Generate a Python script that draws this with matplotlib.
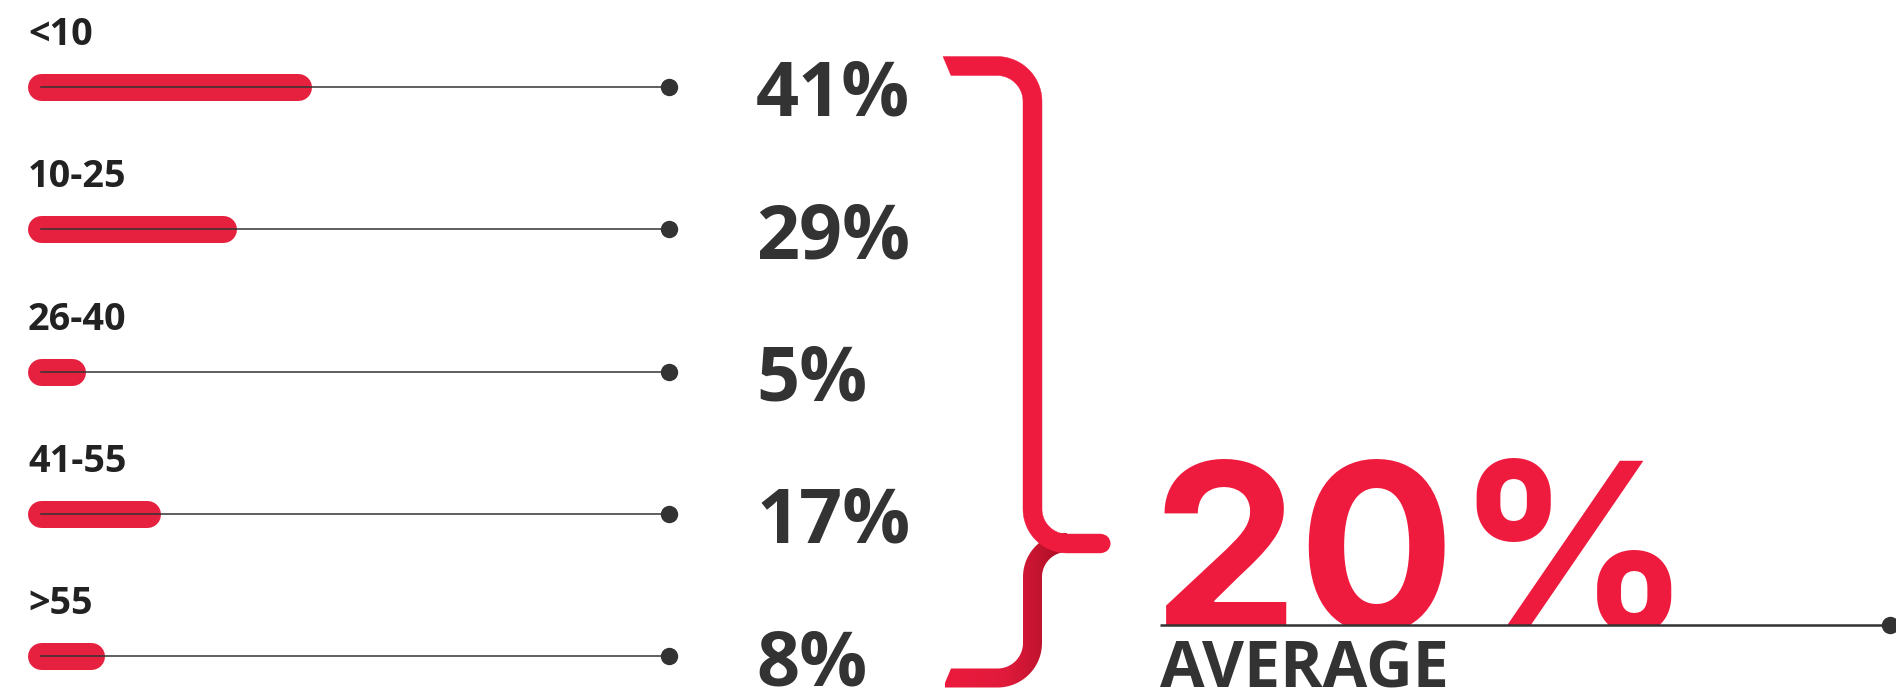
import matplotlib
matplotlib.use("Agg")
import matplotlib.pyplot as plt
import numpy as np
from matplotlib import font_manager as fm
from matplotlib.patches import Polygon, Circle, Rectangle
from matplotlib.colors import LinearSegmentedColormap

# donnees
age_groups = ['<10', '10-25', '26-40', '41-55', '>55']
shares = [41, 29, 5, 17, 8]
average_share = 20

RED = '#ef1b3e'
BAR_RED = '#e6203f'
DARK = '#333333'
LABEL = '#222222'


def find_font(filename):
    for f in fm.fontManager.ttflist:
        if f.fname.endswith(filename):
            return f.fname
    return None


open_bold = find_font('OpenSans-Bold.ttf')
inter_bold = find_font('Inter-Bold.otf')


def font(size, path=open_bold):
    if path:
        return fm.FontProperties(fname=path, size=size)
    return fm.FontProperties(family='DejaVu Sans', weight='bold', size=size)


W, H = 1896, 695
fig = plt.figure(figsize=(W / 100, H / 100), dpi=100)

# axe "canevas" en pixels pour le decor
ax = fig.add_axes([0, 0, 1, 1])
ax.set_xlim(0, W)
ax.set_ylim(H, 0)
ax.axis('off')

# axe des barres : x en %, y = indice de la ligne
row0, row_step = 87, 142.25
x0, px_per_pct = 40.5, 6.28
bx = fig.add_axes([0, 0, 1, 1])
bx.set_xlim(-x0 / px_per_pct, (W - x0) / px_per_pct)
bx.set_ylim((H - row0) / row_step, -row0 / row_step)
bx.axis('off')
bx.patch.set_alpha(0)

for i, (lab, v) in enumerate(zip(age_groups, shares)):
    bx.plot([0, v], [i, i], color=BAR_RED, lw=27 * 0.72,
            solid_capstyle='round', zorder=2)
    bx.plot([0, 100], [i, i], color=DARK, lw=1.1, zorder=3)
    bx.plot([100], [i], 'o', color=DARK, ms=11.5, zorder=4)
    y_px = row0 + i * row_step
    ax.text(28, y_px - 42, lab, fontproperties=font(27.2),
            color=LABEL, va='baseline', ha='left')
    ax.text(756, y_px + 29, f'{v}%', fontproperties=font(54.4),
            color=DARK, va='baseline', ha='left')


def arc(cx, cy, r, a0, a1, n=40):
    t = np.radians(np.linspace(a0, a1, n))
    return np.column_stack([cx + r * np.cos(t), cy + r * np.sin(t)])


def stroke_outline(pts, w):
    d = np.gradient(pts, axis=0)
    d /= np.linalg.norm(d, axis=1)[:, None]
    n = np.column_stack([-d[:, 1], d[:, 0]])
    return pts + n * w, pts - n * w


half = 9.5

# accolade : partie basse (degrade), dessinee en premier
low = np.vstack([
    arc(1067, 577, 34.5, -90, -180)[:-1],
    [[1032.5, 577.0 + 1], [1032.5, 643.0 - 1]],
    arc(997.5, 643, 35, 0, 90)[1:],
    [[951, 678]],
])
a, b = stroke_outline(low, half)
poly_low = np.vstack([a, [[943, 687.5]], b[::-1]])
low_patch = Polygon(poly_low, closed=True, facecolor='none',
                    edgecolor='none', transform=ax.transData)
ax.add_patch(low_patch)
grad = LinearSegmentedColormap.from_list('g', ['#ec1b3d', '#e01a3b', '#a80e24'])
im = ax.imshow(np.linspace(0, 1, 200)[None, :], cmap=grad, aspect='auto',
               extent=(945, 1068, 692, 530), zorder=5, interpolation='bilinear')
im.set_clip_path(low_patch)
ax.set_xlim(0, W)
ax.set_ylim(H, 0)

# accolade : partie haute
up = np.vstack([
    [[951, 66]],
    arc(997, 101.5, 35.5, -90, 0)[1:],
    [[1032.5, 102.5], [1032.5, 508]],
    arc(1067, 509, 34.5, 180, 90)[1:],
    [[1101, 543.5]],
])
a, b = stroke_outline(up, half)
poly_up = np.vstack([[[943, 56.5]], a, b[::-1]])
ax.add_patch(Polygon(poly_up, closed=True, facecolor=RED, edgecolor=RED,
                     lw=0.3, zorder=6))
ax.add_patch(Circle((1101, 543.5), half, facecolor=RED, edgecolor='none',
                    zorder=6))

# moyenne
ax.plot([1160, 1890], [625, 625], color=DARK, lw=1.8, zorder=8,
        solid_capstyle='butt')
ax.plot([1890], [625], 'o', color=DARK, ms=11.5, zorder=8, clip_on=False)
big = ax.text(1152, 631, f'{average_share}%',
              fontproperties=font(168, inter_bold or open_bold),
              color=RED, va='baseline', ha='left', zorder=7, clip_on=True)
clip_rect = Rectangle((1100, 0), 796, 625, transform=ax.transData)
big.set_clip_path(clip_rect)
ax.text(1160, 687, 'AVERAGE', fontproperties=font(46.5),
        color=DARK, va='baseline', ha='left')

fig.savefig('out.png', dpi=100, facecolor='white')
